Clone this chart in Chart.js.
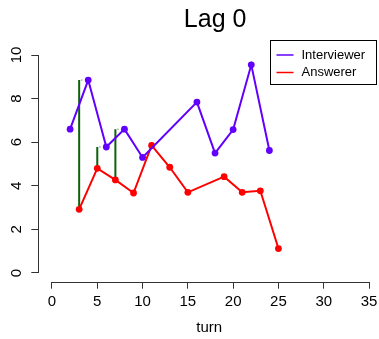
<!DOCTYPE html>
<html>
<head>
<meta charset="utf-8">
<script src="https://cdn.jsdelivr.net/npm/chart.js@4/dist/chart.umd.min.js"></script>
<style>
	html, body { margin: 0; padding: 0; background: #fff; }
	canvas { display: block; }
</style>
</head>
<body>
<canvas id="lag-chart" width="379" height="339"></canvas>
<script>
// Values
var interviewerTurns = [2, 4, 6, 8, 10, 16, 18, 20, 22, 24];
var interviewerValues = [6.6, 8.85, 5.78, 6.6, 5.3, 7.84, 5.5, 6.58, 9.55, 5.62];
var answererTurns = [3, 5, 7, 9, 11, 13, 15, 19, 21, 23, 25];
var answererValues = [2.92, 4.8, 4.27, 3.67, 5.85, 4.85, 3.7, 4.42, 3.7, 3.77, 1.12];
// green lag segments: answerer turn -> next interviewer turn
var lagTurns = [3, 5, 7];
var lagNextTurns = [4, 6, 8];
var xTickValues = [0, 5, 10, 15, 20, 25, 30, 35];
var yTickValues = [0, 2, 4, 6, 8, 10];

var font = "'Liberation Sans', Arial, sans-serif";
Chart.defaults.font.family = font;
Chart.defaults.color = '#000';

function toPoints(xs, ys) {
	return xs.map(function(x, i) { return {x: x, y: ys[i]}; });
}
function valueAt(xs, ys, x) {
	return ys[xs.indexOf(x)];
}

var datasets = [
	{
		label: 'Interviewer',
		data: toPoints(interviewerTurns, interviewerValues),
		borderColor: '#6200ff',
		backgroundColor: '#6200ff',
		borderWidth: 2,
		pointRadius: 3.4,
		pointBorderWidth: 0,
		showLine: true
	},
	{
		label: 'Answerer',
		data: toPoints(answererTurns, answererValues),
		borderColor: '#ff0000',
		backgroundColor: '#ff0000',
		borderWidth: 2,
		pointRadius: 3.4,
		pointBorderWidth: 0,
		showLine: true
	}
];

lagTurns.forEach(function(t, i) {
	var bottom = valueAt(answererTurns, answererValues, t);
	var top = valueAt(interviewerTurns, interviewerValues, lagNextTurns[i]);
	datasets.push({
		data: [{x: t, y: bottom}, {x: t, y: top}],
		borderColor: '#0b620b',
		borderWidth: 2,
		pointRadius: 0,
		showLine: true
	});
	datasets.push({
		data: [{x: t + 0.2, y: top}, {x: t + 0.55, y: top}],
		borderColor: '#888',
		borderWidth: 1,
		borderDash: [1.5, 1.5],
		pointRadius: 0,
		showLine: true
	});
});

// R-style axes, title and legend box
var rStyle = {
	id: 'rStyle',
	afterDraw: function(chart) {
		var ctx = chart.ctx;
		var xs = chart.scales.x, ys = chart.scales.y;
		var area = chart.chartArea;
		ctx.save();
		ctx.strokeStyle = '#333';
		ctx.lineWidth = 1;
		// axis lines only across the tick range
		var yb = Math.round(area.bottom) + 0.5;
		ctx.beginPath();
		ctx.moveTo(xs.getPixelForValue(xTickValues[0]), yb);
		ctx.lineTo(xs.getPixelForValue(xTickValues[xTickValues.length - 1]), yb);
		ctx.stroke();
		var xl = Math.round(area.left) - 0.5;
		ctx.beginPath();
		ctx.moveTo(xl, ys.getPixelForValue(yTickValues[0]));
		ctx.lineTo(xl, ys.getPixelForValue(yTickValues[yTickValues.length - 1]));
		ctx.stroke();

		// rotated y tick labels
		ctx.fillStyle = '#000';
		ctx.font = '15px ' + font;
		ctx.textAlign = 'center';
		ctx.textBaseline = 'middle';
		yTickValues.forEach(function(v) {
			ctx.save();
			ctx.translate(17, ys.getPixelForValue(v));
			ctx.rotate(-Math.PI / 2);
			ctx.fillText(String(v), 0, 0);
			ctx.restore();
		});

		// main title
		ctx.font = '25px ' + font;
		ctx.textBaseline = 'alphabetic';
		ctx.fillText('Lag 0', (area.left + area.right) / 2 + 6, 26.5);

		// legend
		var bx = 270.5, by = 40.5, bw = 106, bh = 44;
		ctx.strokeStyle = '#000';
		ctx.strokeRect(bx, by, bw, bh);
		ctx.font = '13px ' + font;
		ctx.textAlign = 'left';
		ctx.textBaseline = 'middle';
		chart.data.datasets.filter(function(d) { return d.label; }).forEach(function(d, i) {
			var yy = by + 14.5 + i * 17.5;
			ctx.strokeStyle = d.borderColor;
			ctx.lineWidth = 1.5;
			ctx.beginPath();
			ctx.moveTo(bx + 6, yy);
			ctx.lineTo(bx + 23, yy);
			ctx.stroke();
			ctx.fillStyle = '#000';
			ctx.fillText(d.label, bx + 31, yy);
		});
		ctx.restore();
	}
};

var chart = new Chart(document.getElementById('lag-chart'), {
	type: 'scatter',
	data: {datasets: datasets},
	plugins: [rStyle],
	options: {
		responsive: false,
		animation: false,
		devicePixelRatio: 1,
		layout: {autoPadding: false, padding: {top: 46.3, left: 0, right: 0, bottom: 0}},
		plugins: {
			legend: {display: false},
			tooltip: {enabled: false}
		},
		scales: {
			x: {
				type: 'linear',
				min: -1.4,
				max: 36.1,
				afterBuildTicks: function(scale) {
					scale.ticks = xTickValues.map(function(v) { return {value: v}; });
				},
				afterFit: function(scale) {
					scale.height = 57.3;
					scale.paddingLeft = 0;
					scale.paddingRight = 0;
				},
				grid: {drawOnChartArea: false, drawTicks: true, tickLength: 7, color: '#333'},
				border: {display: false},
				ticks: {font: {size: 15}, color: '#000', padding: 4, maxRotation: 0, autoSkip: false},
				title: {display: true, text: 'turn', font: {size: 15}, color: '#000', padding: {top: 0, bottom: 2}}
			},
			y: {
				type: 'linear',
				min: -0.4,
				max: 10.4,
				afterBuildTicks: function(scale) {
					scale.ticks = yTickValues.map(function(v) { return {value: v}; });
				},
				afterFit: function(scale) {
					scale.width = 39.3;
					scale.paddingTop = 0;
					scale.paddingBottom = 0;
				},
				grid: {drawOnChartArea: false, drawTicks: true, tickLength: 8, color: '#333'},
				border: {display: false},
				ticks: {display: false}
			}
		}
	}
});
</script>
</body>
</html>
